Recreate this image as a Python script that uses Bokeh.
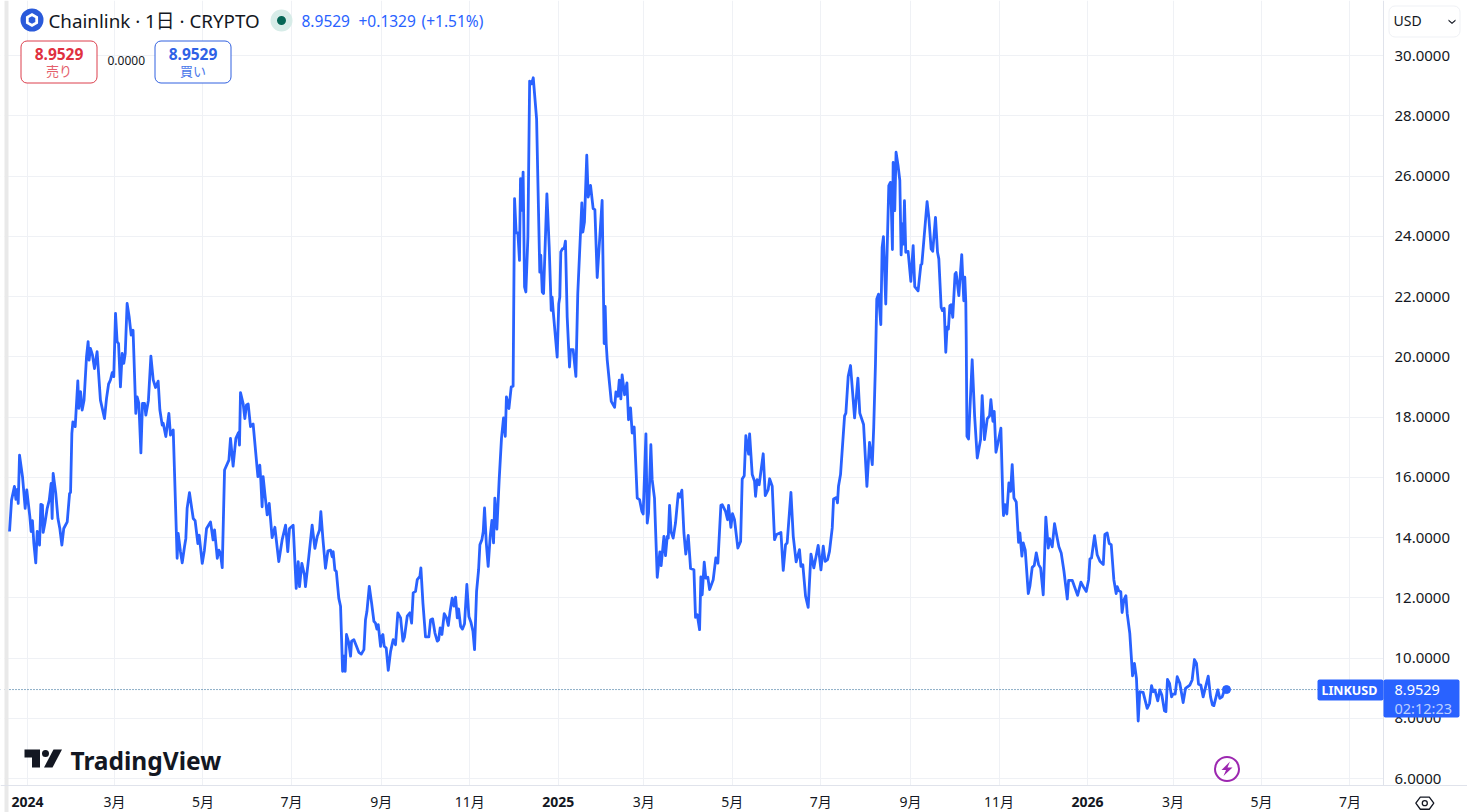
#
# Chainlink daily close (LINKUSD)
#
import numpy as np
from bokeh.embed import file_html
from bokeh.models import BoxAnnotation, FixedTicker, Label, PolyAnnotation, Range1d, Span
from bokeh.plotting import figure
from bokeh.resources import INLINE

# days since 1 Jan 2024 for each point of the line
days = [
    -12.4, -11, -9, -8, -7, -6.4, -5.5, -3.4, -1.6, -0.5,
    1.6, 2.5, 3.4, 4.4, 5.7, 6.7, 8.3, 9.2, 10.3, 10.8,
    12, 13.6, 15, 16.3, 17, 17.7, 19.5, 21, 22.3, 23.7,
    25, 27.4, 29, 29.7, 30.6, 31.3, 32.9, 34.7, 35.4, 36.6,
    37.7, 39, 40.7, 41.8, 42.5, 43.4, 44.8, 46.2, 48, 50.3,
    53.1, 54.5, 55.9, 57.2, 58.4, 59.5, 60.7, 61.8, 62.8, 64.1,
    65.3, 66.4, 67.4, 68.7, 70.1, 71.5, 72.8, 74.7, 75.6, 76.8,
    78.2, 79.3, 80.7, 81.6, 83.4, 85.1, 86.7, 88.3, 90.1, 91.3,
    92.9, 93.6, 95.4, 97.5, 98.6, 100.5, 103.2, 103.9, 105.5, 106.7,
    108.3, 109.2, 110.1, 111.7, 114.3, 115.6, 117.5, 118.4, 120.5, 122,
    123.5, 126.2, 128, 129, 130.9, 132, 133.1, 134.3, 135.9, 138.9,
    140, 141.8, 143.7, 145.5, 146.2, 146.9, 148.7, 149.9, 151, 152.2,
    153.8, 155.6, 158.9, 160.2, 160.9, 161.8, 162.5, 163.7, 165.3, 166.7,
    168.7, 170.6, 173.3, 175.6, 178, 179.5, 180.7, 183.2, 185.3, 186.7,
    187.6, 189.2, 191, 191.7, 194, 196.3, 198.2, 199.8, 201.4, 202.3,
    203.7, 205.5, 207.2, 209, 210.1, 210.8, 212, 213, 214.7, 215.9,
    217.3, 218.2, 219.1, 220, 221.6, 222.8, 223.5, 225.1, 226.9, 228.5,
    230.2, 232, 233.1, 234.1, 235.7, 237.3, 238.9, 240, 241, 241.9,
    243.5, 244.2, 245.1, 246, 247.4, 248.8, 250.4, 252.2, 253.8, 255.4,
    257.3, 258.9, 260, 261.9, 263.7, 264.9, 266, 267.6, 268.8, 270.6,
    271.3, 272.7, 274.5, 276.8, 278, 279.4, 281, 282.6, 283.5, 284.6,
    285.8, 287.4, 289, 290.2, 291.3, 292.9, 294.1, 295.2, 296.4, 297.3,
    298.7, 300, 301.4, 303, 304.4, 305.8, 307.2, 308.3, 309.7, 311.1,
    312, 313.4, 314.3, 315.2, 316.4, 317.7, 319.1, 320.3, 321.4, 322.3,
    323.7, 325.3, 326.9, 328.3, 329.5, 330.3, 332, 333.6, 334.9, 335.9,
    337, 338.2, 339.3, 340, 340.9, 341.8, 342.8, 343.7, 345.1, 346.3,
    347.6, 348.8, 351.1, 353.3, 354, 355, 355.9, 358.2, 359.8, 361.2,
    361.8, 362.5, 365.3, 366.4, 367.1, 367.8, 369, 370.1, 371, 372.2,
    373.8, 374.5, 376.3, 378.2, 379.5, 382.3, 383, 384.1, 385.7, 386.7,
    388.3, 390.1, 391.3, 392.9, 396.3, 397.7, 398.4, 399.1, 399.8, 402.6,
    404.9, 405.8, 407.2, 408.1, 409.2, 410.1, 411.8, 413.4, 414.5, 415.9,
    417, 418.4, 420.5, 422.1, 423.7, 424.6, 426.5, 427.4, 428.3, 429.9,
    430.8, 432.4, 434.3, 436.1, 437, 438.9, 440, 441.2, 441.9, 442.8,
    443.9, 445.3, 446.9, 448.8, 449.9, 451.3, 452.7, 454, 455.7, 457.3,
    459.6, 460.7, 461.9, 463.5, 464.4, 465.3, 466.7, 467.8, 469.2, 470.4,
    472.9, 474.7, 476.1, 478.2, 479.1, 481.4, 482.8, 483.5, 485.1, 486.2,
    487.6, 489.9, 491.8, 492.9, 494.3, 495.4, 497.3, 498, 499.8, 501.4,
    502.1, 503.2, 504.6, 507.4, 508.8, 510.8, 511.8, 513.6, 515.2, 516.6,
    519.6, 521.2, 522.8, 523.9, 526.5, 528.1, 530.1, 532.4, 533.4, 534.7,
    536.6, 538.4, 540.3, 542.3, 545.3, 547.2, 548.8, 550.1, 551.8, 553.1,
    555, 555.9, 557.9, 558.6, 559.3, 560.7, 563.5, 564.4, 566, 567.6,
    570.4, 572.7, 574, 576.6, 578.9, 580.7, 582.6, 583.6, 584.8, 585.7,
    586.9, 588.5, 589.4, 590.3, 591.9, 594, 595.1, 595.8, 596.5, 597,
    598.1, 599, 600.4, 601.6, 602.5, 603.4, 604.1, 604.8, 605.7, 607.3,
    609.2, 610.8, 611.9, 614.2, 616.1, 616.8, 620.4, 621.6, 623.2, 624.3,
    626.2, 627.6, 628.5, 630.1, 631, 632.2, 633.3, 634.2, 635.1, 636.1,
    637, 638.1, 639.7, 640.4, 642.3, 644.3, 645.7, 646.4, 647.1, 647.4,
    647.9, 649, 651.5, 653.2, 655, 657.3, 658.4, 660, 661.9, 663.5,
    664.4, 665.8, 666.7, 667.9, 669.5, 671.3, 672.7, 673.1, 674.1, 675.4,
    676.8, 678, 679.1, 680.3, 681.9, 683.5, 684.4, 685.8, 686.7, 688.1,
    690.2, 691.3, 692.9, 694.3, 695.7, 697.3, 698.7, 700.5, 702.3, 704,
    704.9, 706.7, 708.3, 709.9, 711.3, 712.9, 714.8, 717.1, 718, 720.5,
    724.2, 726.5, 728.6, 730.2, 731.8, 732.7, 733.8, 735.9, 737.7, 739.6,
    741.9, 743, 744.6, 746, 747.4, 749.2, 750.8, 751.5, 752.6, 754,
    754.9, 756.1, 757.5, 758.4, 760.2, 762.1, 763.4, 764.8, 766, 767.1,
    769.4, 772.2, 773.8, 775.2, 776.3, 777.5, 779.5, 780.9, 782.3, 784.1,
    785.1, 786.2, 787.6, 789, 789.9, 791.5, 792.9, 794.7, 797, 798.6,
    801.6, 803.2, 804.8, 806.2, 807.6, 809.2, 810.8, 814.3, 815.9, 817.2,
    818.2, 820.9, 822.3, 823.9, 825.5, 826.9,
]

prices = [
    14.2, 15.24, 15.7, 15.27, 15.6, 15.13, 16.73, 16.0, 14.97, 15.58,
    14.7, 14.2, 14.56, 13.8, 13.16, 14.2, 13.75, 15.1, 15.08, 14.17,
    14.47, 14.97, 15.24, 15.8, 14.63, 16.13, 15.46, 14.63, 14.3, 13.75,
    14.3, 14.52, 15.46, 15.5, 17.46, 17.84, 17.68, 19.2, 18.29, 18.84,
    18.23, 18.56, 20.0, 20.5, 19.89, 20.28, 20.06, 19.61, 20.17, 18.56,
    17.95, 18.62, 19.09, 19.23, 19.47, 19.34, 21.44, 20.5, 20.44, 19.0,
    20.11, 19.78, 20.11, 21.77, 21.33, 20.72, 20.88, 18.12, 18.67, 18.45,
    16.81, 18.45, 18.45, 18.06, 18.56, 20.02, 19.23, 18.98, 19.19, 18.23,
    17.73, 17.79, 17.35, 18.12, 17.4, 17.57, 13.31, 14.14, 13.53, 13.16,
    13.7, 13.97, 14.97, 15.49, 14.63, 14.56, 13.8, 14.08, 13.14, 13.58,
    14.3, 14.52, 13.92, 14.25, 13.31, 13.58, 13.47, 13.0, 16.24, 16.57,
    17.29, 16.37, 17.29, 17.48, 17.07, 18.81, 18.45, 17.95, 18.4, 18.43,
    17.68, 17.77, 16.02, 16.4, 15.9, 15.02, 16.02, 15.46, 14.75, 15.13,
    14.0, 14.34, 13.2, 13.92, 14.41, 13.53, 14.3, 14.41, 12.31, 13.2,
    12.37, 13.14, 12.75, 12.37, 13.36, 14.41, 13.64, 14.03, 14.25, 14.86,
    13.97, 12.98, 13.56, 13.58, 13.36, 13.53, 12.92, 12.87, 11.98, 11.72,
    9.56, 10.06, 9.56, 10.78, 10.5, 10.06, 10.56, 10.61, 10.39, 10.19,
    10.13, 10.28, 11.27, 11.55, 12.38, 11.83, 11.22, 11.16, 10.96, 11.11,
    10.39, 10.72, 10.78, 10.39, 10.33, 9.59, 10.22, 10.61, 10.44, 11.5,
    11.33, 10.56, 10.7, 11.39, 11.5, 11.16, 12.16, 12.21, 12.6, 12.71,
    12.99, 11.83, 10.7, 10.7, 11.27, 11.3, 10.83, 10.56, 10.6, 11.0,
    10.78, 11.47, 11.33, 11.08, 11.5, 11.99, 11.72, 12.02, 11.33, 11.63,
    11.05, 10.96, 11.14, 12.44, 11.38, 11.19, 10.89, 10.28, 12.21, 12.93,
    13.76, 13.93, 14.2, 14.98, 13.82, 13.04, 14.04, 14.57, 13.82, 15.31,
    14.28, 15.92, 17.3, 17.97, 17.36, 18.67, 18.28, 19.0, 19.02, 25.25,
    24.11, 24.11, 23.2, 25.91, 24.86, 26.13, 22.32, 22.15, 23.98, 29.15,
    29.06, 29.26, 27.9, 22.81, 23.37, 22.15, 22.1, 25.41, 23.64, 21.54,
    21.98, 21.54, 19.99, 21.76, 21.98, 23.48, 23.59, 23.59, 23.84, 21.32,
    19.66, 20.24, 20.24, 19.35, 22.1, 25.11, 24.14, 24.47, 26.69, 25.3,
    25.69, 24.92, 24.88, 22.63, 25.19, 20.44, 21.67, 20.44, 19.9, 18.52,
    18.32, 18.83, 18.69, 19.22, 18.6, 19.4, 18.74, 19.13, 17.91, 18.3,
    17.47, 17.67, 15.31, 15.26, 14.87, 14.78, 17.44, 14.48, 14.81, 17.08,
    15.92, 15.31, 12.68, 13.52, 13.07, 14.04, 13.4, 14.04, 13.98, 15.07,
    14.18, 13.98, 14.48, 15.46, 15.34, 15.57, 14.15, 13.45, 14.07, 12.97,
    12.93, 11.35, 11.44, 10.94, 12.69, 12.1, 13.18, 12.65, 12.68, 12.27,
    12.6, 13.32, 13.15, 15.07, 15.09, 14.87, 14.59, 15.07, 14.34, 14.79,
    14.59, 13.65, 13.87, 15.94, 16.05, 17.38, 16.77, 17.44, 16.09, 15.87,
    15.37, 15.92, 15.75, 16.78, 15.39, 15.59, 15.95, 15.7, 13.93, 14.1,
    14.17, 12.91, 13.76, 13.82, 15.5, 14.04, 13.19, 13.6, 13.04, 13.1,
    12.05, 11.68, 13.45, 12.99, 13.74, 12.93, 13.71, 13.21, 13.27, 13.54,
    14.32, 15.28, 15.33, 15.15, 15.7, 16.09, 18.04, 18.13, 19.35, 19.71,
    17.97, 19.29, 18.13, 17.75, 15.7, 17.16, 16.42, 17.66, 19.76, 21.92,
    22.08, 21.07, 23.63, 23.99, 21.75, 25.68, 25.79, 24.85, 23.56, 26.45,
    24.85, 26.79, 26.34, 25.85, 23.38, 24.41, 23.74, 25.18, 23.47, 23.5,
    22.5, 23.69, 22.33, 22.19, 23.05, 23.08, 25.15, 24.63, 23.58, 23.5,
    24.63, 23.47, 23.25, 21.64, 21.53, 21.61, 20.15, 20.98, 20.92, 21.7,
    21.73, 21.31, 22.75, 22.8, 22.03, 23.39, 21.86, 22.64, 21.81, 20.57,
    17.36, 17.27, 19.9, 18.02, 16.64, 17.25, 18.71, 17.25, 17.94, 18.04,
    18.58, 17.86, 18.19, 16.83, 17.19, 17.63, 15.15, 14.73, 15.09, 14.78,
    15.81, 15.53, 16.42, 15.31, 15.18, 13.84, 14.15, 13.38, 13.82, 13.58,
    12.14, 12.38, 13.01, 13.07, 13.49, 13.1, 12.99, 12.1, 14.68, 13.65,
    13.96, 13.69, 14.46, 14.04, 13.69, 13.49, 12.88, 11.96, 12.58, 12.58,
    12.08, 12.52, 12.33, 12.21, 12.6, 13.29, 13.32, 14.06, 13.43, 13.21,
    13.1, 14.1, 14.15, 13.8, 13.76, 12.6, 12.14, 12.37, 12.23, 12.2,
    11.51, 11.92, 12.07, 11.48, 10.82, 9.41, 9.82, 9.32, 7.91, 8.88,
    8.86, 8.33, 8.49, 9.08, 8.88, 8.94, 8.58, 8.94, 8.77, 8.25,
    8.22, 9.29, 9.16, 8.71, 8.8, 8.8, 9.38, 9.16, 8.52, 8.99,
    9.1, 9.27, 9.95, 9.82, 9.13, 9.1, 8.71, 9.4, 8.71, 8.44,
    8.42, 8.94, 8.66, 8.71, 8.94, 8.9529,
]

last_price = 8.9529

# month ticks on the time axis, years get bold labels below
month_days = [60, 121, 182, 244, 305, 425, 486, 547, 609, 670, 790, 851, 912]
month_labels = ['3月', '5月', '7月', '9月', '11月', '3月', '5月', '7月', '9月', '11月', '3月', '5月', '7月']
year_days = [0, 366, 731]
year_labels = ['2024', '2025', '2026']
price_ticks = [6, 8, 10, 12, 14, 16, 18, 20, 22, 24, 26, 28, 30]

BLUE = '#2962ff'
INK = '#131722'
GRID = '#eff1f5'
EDGE = '#e0e3eb'
FONT = 'Noto Sans, Noto Sans CJK JP'

# The frame fills the whole canvas because annotations get clipped to it.
# The axes are then pinned to where the pane ends.
PANE_RIGHT = 935.2
PANE_BOTTOM = 5.768
p = figure(width=1467, height=812, output_backend='svg', toolbar_location=None,
           x_range=Range1d(-18.62, 993.1), y_range=Range1d(4.872, 31.826),
           x_axis_location='below', y_axis_location='right',
           min_border=0, outline_line_color=None, background_fill_color='white')

# Axes
p.xaxis.ticker = FixedTicker(ticks=year_days + month_days)
overrides = {d: l for d, l in zip(month_days, month_labels)}
overrides.update({d: ' ' for d in year_days})
p.xaxis.major_label_overrides = overrides
p.yaxis.ticker = FixedTicker(ticks=price_ticks)
p.yaxis.major_label_overrides = {t: '%.4f' % t for t in price_ticks}
p.xaxis.fixed_location = PANE_BOTTOM
p.yaxis.fixed_location = PANE_RIGHT
p.yaxis.bounds = (PANE_BOTTOM, 31.826)
for ax in [p.xaxis[0], p.yaxis[0]]:
    ax.axis_line_color = EDGE
    ax.axis_line_width = 1
    ax.major_tick_in = 0
    ax.major_tick_out = 0
    ax.minor_tick_in = 0
    ax.minor_tick_out = 0
    ax.major_tick_line_color = None
    ax.minor_tick_line_color = None
    ax.major_label_text_color = INK
    ax.major_label_text_font = FONT
    ax.major_label_text_font_size = '14px'
p.xaxis.major_label_standoff = 6
p.yaxis.major_label_standoff = 11
p.yaxis.major_label_text_font_size = '15px'
p.grid.grid_line_color = GRID
p.grid.grid_line_width = 1

# Last price marker, under the masks below
p.add_layout(Span(location=last_price, dimension='width', line_color='#1f5f8f',
                  line_dash=[1, 2], line_width=1, level='underlay'))

# The price line
p.line(days, prices, line_color=BLUE, line_width=2.8, line_join='round')
p.scatter(days[-1:], prices[-1:], size=8, color=BLUE)


# Helpers for the interface bits around the chart, all in canvas pixels
def text(x, y, s, color=INK, size=14, style='normal', align='left', font=FONT):
    p.add_layout(Label(x=x, y=y, x_units='canvas', y_units='canvas', text=s, text_color=color,
                       text_font=font, text_font_size='%gpx' % size, text_font_style=style,
                       text_align=align, text_baseline='middle', level='annotation'))


def box(left, top, right, bottom, fill='white', line=None, radius=0, width=1, level='annotation'):
    p.add_layout(BoxAnnotation(left=left, right=right, top=top, bottom=bottom,
                               left_units='canvas', right_units='canvas', top_units='canvas', bottom_units='canvas',
                               fill_color=fill, fill_alpha=1 if fill else 0, line_color=line, line_alpha=1 if line else 0,
                               line_width=width, border_radius=radius, level=level))


def poly(xs, ys, fill=None, line=None, width=1):
    p.add_layout(PolyAnnotation(xs=list(xs), ys=list(ys), xs_units='canvas', ys_units='canvas',
                                fill_color=fill, fill_alpha=1 if fill else 0, line_color=line,
                                line_alpha=1 if line else 0, line_width=width, level='annotation'))


def hexagon(cx, cy, rx, ry, start):
    a = np.radians(start + 60 * np.arange(6))
    return cx + rx * np.cos(a), cy + ry * np.sin(a)


# Grid stays inside the pane, gray strip on the left edge
box(1383, 0, 1467, 812, level='underlay')
box(0, 785, 1467, 812, level='underlay')
box(0, 0, 4, 812, level='underlay')
box(4, 0, 8, 812, fill='#e9e9e9', level='underlay')

# Year labels are bold so they are drawn apart from the month ticks
for d, l in zip(year_days, year_labels):
    p.add_layout(Label(x=d, y=801, x_units='data', y_units='canvas', text=l, text_color=INK, text_font=FONT,
                       text_font_size='14px', text_font_style='bold', text_align='center',
                       text_baseline='middle', level='annotation'))

# Header
box(20, 8, 43, 31, fill='#2a5ada', radius=12)
poly(*hexagon(31.5, 19.5, 7, 7, 30), fill='white')
poly(*hexagon(31.5, 19.5, 3.8, 3.8, 30), fill='#2a5ada')
text(48, 20, 'Chainlink · 1日 · CRYPTO', size=18.8)
box(270, 9, 292, 31, fill='#d7ece8', radius=11)
box(276.5, 15.5, 285.5, 24.5, fill='#056656', radius=5)
text(301, 20, '8.9529', color=BLUE, size=15.5)
text(358, 20, '+0.1329', color=BLUE, size=15.5)
text(421, 20, '(+1.51%)', color=BLUE, size=15.5)

# Sell and buy boxes
box(20.5, 40.5, 96.5, 82.5, line='#dc3f4d', radius=6)
text(58.5, 53, '8.9529', color='#e0313f', size=15.5, style='bold', align='center')
text(58.5, 70, '売り', color='#e4606c', size=13, align='center')
text(107, 60, '0.0000', size=12)
box(154.5, 40.5, 230.5, 82.5, line='#3060e0', radius=6)
text(192.5, 53, '8.9529', color='#2f62e6', size=15.5, style='bold', align='center')
text(192.5, 70, '買い', color='#4b78ea', size=13, align='center')

# Currency selector
box(1388.5, 5.5, 1459.5, 36.5, line=GRID, radius=6)
text(1393, 20, 'USD', size=14)
poly([1448, 1451.5, 1455, 1455, 1451.5, 1448], [19, 22, 19, 20.4, 23.4, 20.4], fill=INK)

# Last price tags
box(1317, 679, 1383, 700, fill=BLUE, radius=2)
text(1321, 689.5, 'LINKUSD', color='white', size=12.5, style='bold')
box(1383, 679, 1459, 717, fill=BLUE, radius=2)
text(1394, 689.5, '8.9529', color='white', size=14.5)
text(1394, 707, '02:12:23', color='#bcd0ff', size=14.5)

# TradingView mark
poly([24, 39.5, 39.5, 31.5, 31.5, 24], [749, 749, 767, 767, 757, 757], fill=INK)
box(41.5, 749.5, 48.5, 756.5, fill=INK, radius=4)
poly([53, 61.5, 52, 43.5], [749, 749, 767, 767], fill=INK)
text(70, 760, 'TradingView', size=24.5, style='bold')

# Lightning badge
box(1214.5, 756.5, 1238.5, 780.5, line='#9c27b0', radius=12, width=2)
poly([1229.5, 1221, 1225.5, 1223, 1232, 1227], [761, 769.5, 769.5, 775.5, 767, 767], fill='#9c27b0')

# Settings hexagon
poly(*hexagon(1424.3, 802.7, 9, 7, 0), line=INK, width=1.3)
box(1421.8, 800.2, 1426.8, 805.2, line=INK, radius=3, width=1.3)

open("out.html", "w").write(file_html(p, INLINE))
